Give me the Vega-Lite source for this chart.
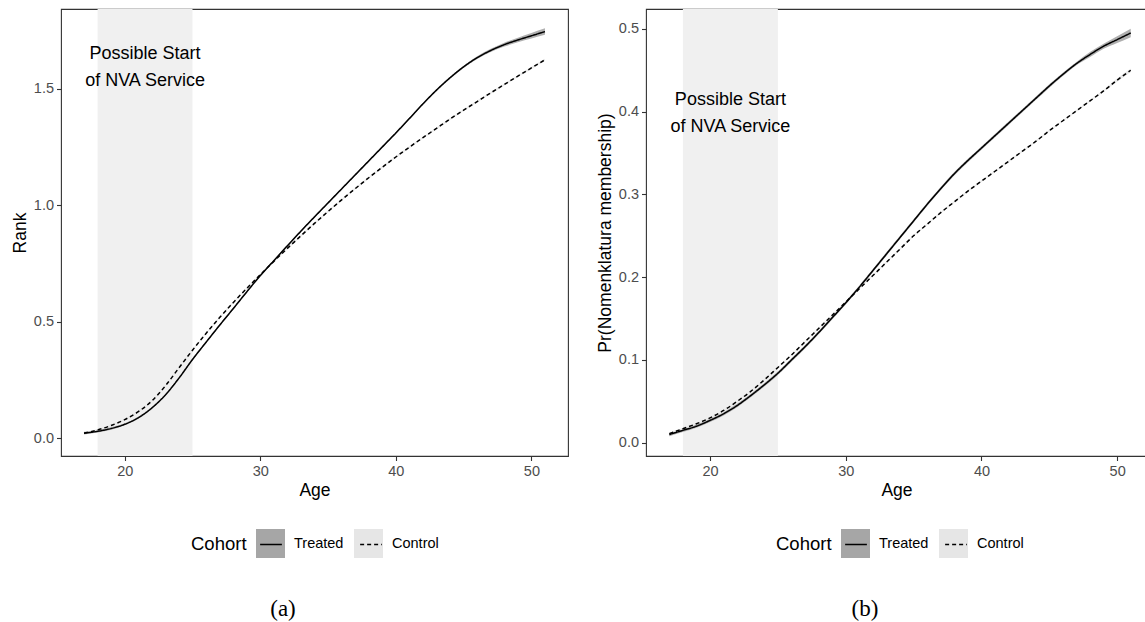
{
  "$schema": "https://vega.github.io/schema/vega-lite/v6.json",
  "background": "white",
  "padding": {"left": 10, "top": 8, "right": -3, "bottom": 0},
  "spacing": 26,
  "datasets": {
    "shade": [{"from": 18, "to": 25}],
    "annotA": [{"age": 21.5, "value": 1.65, "label": "Possible Start\nof NVA Service"}],
    "annotB": [{"age": 21.5, "value": 0.414, "label": "Possible Start\nof NVA Service"}],
    "rank": [
      {"cohort": "Treated", "age": 17, "y": 0.022, "lo": 0.016, "hi": 0.028},
      {"cohort": "Treated", "age": 18, "y": 0.030, "lo": 0.025, "hi": 0.035},
      {"cohort": "Treated", "age": 19, "y": 0.042, "lo": 0.037, "hi": 0.047},
      {"cohort": "Treated", "age": 20, "y": 0.060, "lo": 0.056, "hi": 0.064},
      {"cohort": "Treated", "age": 21, "y": 0.088, "lo": 0.084, "hi": 0.092},
      {"cohort": "Treated", "age": 22, "y": 0.130, "lo": 0.126, "hi": 0.134},
      {"cohort": "Treated", "age": 23, "y": 0.186, "lo": 0.182, "hi": 0.190},
      {"cohort": "Treated", "age": 24, "y": 0.258, "lo": 0.254, "hi": 0.262},
      {"cohort": "Treated", "age": 25, "y": 0.338, "lo": 0.334, "hi": 0.342},
      {"cohort": "Treated", "age": 26, "y": 0.412, "lo": 0.408, "hi": 0.416},
      {"cohort": "Treated", "age": 27, "y": 0.485, "lo": 0.481, "hi": 0.489},
      {"cohort": "Treated", "age": 28, "y": 0.556, "lo": 0.552, "hi": 0.560},
      {"cohort": "Treated", "age": 29, "y": 0.628, "lo": 0.624, "hi": 0.632},
      {"cohort": "Treated", "age": 30, "y": 0.698, "lo": 0.694, "hi": 0.702},
      {"cohort": "Treated", "age": 31, "y": 0.762, "lo": 0.758, "hi": 0.766},
      {"cohort": "Treated", "age": 32, "y": 0.826, "lo": 0.822, "hi": 0.830},
      {"cohort": "Treated", "age": 33, "y": 0.889, "lo": 0.885, "hi": 0.893},
      {"cohort": "Treated", "age": 34, "y": 0.950, "lo": 0.946, "hi": 0.954},
      {"cohort": "Treated", "age": 35, "y": 1.010, "lo": 1.006, "hi": 1.014},
      {"cohort": "Treated", "age": 36, "y": 1.070, "lo": 1.066, "hi": 1.074},
      {"cohort": "Treated", "age": 37, "y": 1.130, "lo": 1.126, "hi": 1.134},
      {"cohort": "Treated", "age": 38, "y": 1.190, "lo": 1.186, "hi": 1.194},
      {"cohort": "Treated", "age": 39, "y": 1.250, "lo": 1.246, "hi": 1.254},
      {"cohort": "Treated", "age": 40, "y": 1.310, "lo": 1.306, "hi": 1.314},
      {"cohort": "Treated", "age": 41, "y": 1.372, "lo": 1.368, "hi": 1.376},
      {"cohort": "Treated", "age": 42, "y": 1.435, "lo": 1.431, "hi": 1.439},
      {"cohort": "Treated", "age": 43, "y": 1.494, "lo": 1.490, "hi": 1.498},
      {"cohort": "Treated", "age": 44, "y": 1.547, "lo": 1.543, "hi": 1.551},
      {"cohort": "Treated", "age": 45, "y": 1.594, "lo": 1.589, "hi": 1.599},
      {"cohort": "Treated", "age": 46, "y": 1.633, "lo": 1.627, "hi": 1.639},
      {"cohort": "Treated", "age": 47, "y": 1.664, "lo": 1.657, "hi": 1.671},
      {"cohort": "Treated", "age": 48, "y": 1.689, "lo": 1.681, "hi": 1.697},
      {"cohort": "Treated", "age": 49, "y": 1.709, "lo": 1.699, "hi": 1.719},
      {"cohort": "Treated", "age": 50, "y": 1.727, "lo": 1.715, "hi": 1.739},
      {"cohort": "Treated", "age": 51, "y": 1.745, "lo": 1.731, "hi": 1.759},
      {"cohort": "Control", "age": 17, "y": 0.022, "lo": 0.017, "hi": 0.027},
      {"cohort": "Control", "age": 18, "y": 0.036, "lo": 0.032, "hi": 0.040},
      {"cohort": "Control", "age": 19, "y": 0.055, "lo": 0.051, "hi": 0.059},
      {"cohort": "Control", "age": 20, "y": 0.080, "lo": 0.076, "hi": 0.084},
      {"cohort": "Control", "age": 21, "y": 0.114, "lo": 0.110, "hi": 0.118},
      {"cohort": "Control", "age": 22, "y": 0.160, "lo": 0.156, "hi": 0.164},
      {"cohort": "Control", "age": 23, "y": 0.225, "lo": 0.221, "hi": 0.229},
      {"cohort": "Control", "age": 24, "y": 0.302, "lo": 0.298, "hi": 0.306},
      {"cohort": "Control", "age": 25, "y": 0.378, "lo": 0.374, "hi": 0.382},
      {"cohort": "Control", "age": 26, "y": 0.450, "lo": 0.446, "hi": 0.454},
      {"cohort": "Control", "age": 27, "y": 0.518, "lo": 0.514, "hi": 0.522},
      {"cohort": "Control", "age": 28, "y": 0.582, "lo": 0.578, "hi": 0.586},
      {"cohort": "Control", "age": 29, "y": 0.643, "lo": 0.639, "hi": 0.647},
      {"cohort": "Control", "age": 30, "y": 0.702, "lo": 0.698, "hi": 0.706},
      {"cohort": "Control", "age": 31, "y": 0.759, "lo": 0.755, "hi": 0.763},
      {"cohort": "Control", "age": 32, "y": 0.815, "lo": 0.811, "hi": 0.819},
      {"cohort": "Control", "age": 33, "y": 0.869, "lo": 0.865, "hi": 0.873},
      {"cohort": "Control", "age": 34, "y": 0.922, "lo": 0.918, "hi": 0.926},
      {"cohort": "Control", "age": 35, "y": 0.973, "lo": 0.969, "hi": 0.977},
      {"cohort": "Control", "age": 36, "y": 1.023, "lo": 1.019, "hi": 1.027},
      {"cohort": "Control", "age": 37, "y": 1.071, "lo": 1.067, "hi": 1.075},
      {"cohort": "Control", "age": 38, "y": 1.118, "lo": 1.114, "hi": 1.122},
      {"cohort": "Control", "age": 39, "y": 1.163, "lo": 1.159, "hi": 1.167},
      {"cohort": "Control", "age": 40, "y": 1.207, "lo": 1.203, "hi": 1.211},
      {"cohort": "Control", "age": 41, "y": 1.249, "lo": 1.245, "hi": 1.253},
      {"cohort": "Control", "age": 42, "y": 1.290, "lo": 1.286, "hi": 1.294},
      {"cohort": "Control", "age": 43, "y": 1.330, "lo": 1.326, "hi": 1.334},
      {"cohort": "Control", "age": 44, "y": 1.370, "lo": 1.366, "hi": 1.374},
      {"cohort": "Control", "age": 45, "y": 1.408, "lo": 1.404, "hi": 1.412},
      {"cohort": "Control", "age": 46, "y": 1.445, "lo": 1.441, "hi": 1.449},
      {"cohort": "Control", "age": 47, "y": 1.482, "lo": 1.478, "hi": 1.486},
      {"cohort": "Control", "age": 48, "y": 1.518, "lo": 1.514, "hi": 1.522},
      {"cohort": "Control", "age": 49, "y": 1.554, "lo": 1.550, "hi": 1.558},
      {"cohort": "Control", "age": 50, "y": 1.589, "lo": 1.584, "hi": 1.594},
      {"cohort": "Control", "age": 51, "y": 1.624, "lo": 1.619, "hi": 1.629}
    ],
    "nomen": [
      {"cohort": "Treated", "age": 17, "y": 0.010, "lo": 0.008, "hi": 0.012},
      {"cohort": "Treated", "age": 18, "y": 0.015, "lo": 0.013, "hi": 0.017},
      {"cohort": "Treated", "age": 19, "y": 0.020, "lo": 0.018, "hi": 0.022},
      {"cohort": "Treated", "age": 20, "y": 0.027, "lo": 0.025, "hi": 0.029},
      {"cohort": "Treated", "age": 21, "y": 0.035, "lo": 0.033, "hi": 0.037},
      {"cohort": "Treated", "age": 22, "y": 0.045, "lo": 0.043, "hi": 0.047},
      {"cohort": "Treated", "age": 23, "y": 0.057, "lo": 0.055, "hi": 0.059},
      {"cohort": "Treated", "age": 24, "y": 0.070, "lo": 0.068, "hi": 0.072},
      {"cohort": "Treated", "age": 25, "y": 0.084, "lo": 0.082, "hi": 0.086},
      {"cohort": "Treated", "age": 26, "y": 0.100, "lo": 0.098, "hi": 0.102},
      {"cohort": "Treated", "age": 27, "y": 0.116, "lo": 0.114, "hi": 0.118},
      {"cohort": "Treated", "age": 28, "y": 0.133, "lo": 0.131, "hi": 0.135},
      {"cohort": "Treated", "age": 29, "y": 0.151, "lo": 0.149, "hi": 0.153},
      {"cohort": "Treated", "age": 30, "y": 0.169, "lo": 0.167, "hi": 0.171},
      {"cohort": "Treated", "age": 31, "y": 0.188, "lo": 0.186, "hi": 0.190},
      {"cohort": "Treated", "age": 32, "y": 0.208, "lo": 0.206, "hi": 0.210},
      {"cohort": "Treated", "age": 33, "y": 0.228, "lo": 0.226, "hi": 0.230},
      {"cohort": "Treated", "age": 34, "y": 0.248, "lo": 0.246, "hi": 0.250},
      {"cohort": "Treated", "age": 35, "y": 0.268, "lo": 0.266, "hi": 0.270},
      {"cohort": "Treated", "age": 36, "y": 0.288, "lo": 0.286, "hi": 0.290},
      {"cohort": "Treated", "age": 37, "y": 0.307, "lo": 0.305, "hi": 0.309},
      {"cohort": "Treated", "age": 38, "y": 0.325, "lo": 0.323, "hi": 0.327},
      {"cohort": "Treated", "age": 39, "y": 0.341, "lo": 0.339, "hi": 0.343},
      {"cohort": "Treated", "age": 40, "y": 0.356, "lo": 0.354, "hi": 0.358},
      {"cohort": "Treated", "age": 41, "y": 0.371, "lo": 0.369, "hi": 0.373},
      {"cohort": "Treated", "age": 42, "y": 0.386, "lo": 0.384, "hi": 0.388},
      {"cohort": "Treated", "age": 43, "y": 0.401, "lo": 0.399, "hi": 0.403},
      {"cohort": "Treated", "age": 44, "y": 0.416, "lo": 0.414, "hi": 0.418},
      {"cohort": "Treated", "age": 45, "y": 0.431, "lo": 0.429, "hi": 0.433},
      {"cohort": "Treated", "age": 46, "y": 0.445, "lo": 0.443, "hi": 0.447},
      {"cohort": "Treated", "age": 47, "y": 0.458, "lo": 0.456, "hi": 0.460},
      {"cohort": "Treated", "age": 48, "y": 0.469, "lo": 0.466, "hi": 0.472},
      {"cohort": "Treated", "age": 49, "y": 0.479, "lo": 0.476, "hi": 0.482},
      {"cohort": "Treated", "age": 50, "y": 0.487, "lo": 0.483, "hi": 0.491},
      {"cohort": "Treated", "age": 51, "y": 0.495, "lo": 0.490, "hi": 0.500},
      {"cohort": "Control", "age": 17, "y": 0.011, "lo": 0.010, "hi": 0.012},
      {"cohort": "Control", "age": 18, "y": 0.017, "lo": 0.016, "hi": 0.018},
      {"cohort": "Control", "age": 19, "y": 0.023, "lo": 0.022, "hi": 0.024},
      {"cohort": "Control", "age": 20, "y": 0.030, "lo": 0.029, "hi": 0.031},
      {"cohort": "Control", "age": 21, "y": 0.039, "lo": 0.038, "hi": 0.040},
      {"cohort": "Control", "age": 22, "y": 0.050, "lo": 0.049, "hi": 0.051},
      {"cohort": "Control", "age": 23, "y": 0.062, "lo": 0.061, "hi": 0.063},
      {"cohort": "Control", "age": 24, "y": 0.076, "lo": 0.075, "hi": 0.077},
      {"cohort": "Control", "age": 25, "y": 0.091, "lo": 0.090, "hi": 0.092},
      {"cohort": "Control", "age": 26, "y": 0.106, "lo": 0.105, "hi": 0.107},
      {"cohort": "Control", "age": 27, "y": 0.122, "lo": 0.121, "hi": 0.123},
      {"cohort": "Control", "age": 28, "y": 0.138, "lo": 0.137, "hi": 0.139},
      {"cohort": "Control", "age": 29, "y": 0.154, "lo": 0.153, "hi": 0.155},
      {"cohort": "Control", "age": 30, "y": 0.170, "lo": 0.169, "hi": 0.171},
      {"cohort": "Control", "age": 31, "y": 0.186, "lo": 0.185, "hi": 0.187},
      {"cohort": "Control", "age": 32, "y": 0.202, "lo": 0.201, "hi": 0.203},
      {"cohort": "Control", "age": 33, "y": 0.218, "lo": 0.217, "hi": 0.219},
      {"cohort": "Control", "age": 34, "y": 0.234, "lo": 0.233, "hi": 0.235},
      {"cohort": "Control", "age": 35, "y": 0.250, "lo": 0.249, "hi": 0.251},
      {"cohort": "Control", "age": 36, "y": 0.264, "lo": 0.263, "hi": 0.265},
      {"cohort": "Control", "age": 37, "y": 0.278, "lo": 0.277, "hi": 0.279},
      {"cohort": "Control", "age": 38, "y": 0.291, "lo": 0.290, "hi": 0.292},
      {"cohort": "Control", "age": 39, "y": 0.304, "lo": 0.303, "hi": 0.305},
      {"cohort": "Control", "age": 40, "y": 0.316, "lo": 0.315, "hi": 0.317},
      {"cohort": "Control", "age": 41, "y": 0.328, "lo": 0.327, "hi": 0.329},
      {"cohort": "Control", "age": 42, "y": 0.340, "lo": 0.339, "hi": 0.341},
      {"cohort": "Control", "age": 43, "y": 0.352, "lo": 0.351, "hi": 0.353},
      {"cohort": "Control", "age": 44, "y": 0.364, "lo": 0.363, "hi": 0.365},
      {"cohort": "Control", "age": 45, "y": 0.377, "lo": 0.376, "hi": 0.378},
      {"cohort": "Control", "age": 46, "y": 0.389, "lo": 0.388, "hi": 0.390},
      {"cohort": "Control", "age": 47, "y": 0.401, "lo": 0.400, "hi": 0.402},
      {"cohort": "Control", "age": 48, "y": 0.413, "lo": 0.412, "hi": 0.414},
      {"cohort": "Control", "age": 49, "y": 0.425, "lo": 0.424, "hi": 0.426},
      {"cohort": "Control", "age": 50, "y": 0.438, "lo": 0.436, "hi": 0.440},
      {"cohort": "Control", "age": 51, "y": 0.450, "lo": 0.448, "hi": 0.452}
    ]
  },
  "hconcat": [
    {
      "width": 507,
      "height": 447,
      "title": {"text": "(a)", "orient": "bottom", "anchor": "middle", "frame": "group", "dx": -31.5, "offset": 40, "font": "Liberation Serif", "fontSize": 23, "fontWeight": "normal", "color": "black"},
      "layer": [
        {
          "data": {"name": "shade"},
          "mark": {"type": "rect", "color": "#f0f0f0"},
          "encoding": {
            "x": {"field": "from", "type": "quantitative", "title": "Age", "scale": {"domain": [15.3, 52.7], "nice": false, "zero": false}, "axis": {"values": [20, 30, 40, 50]}},
            "x2": {"field": "to"}
          }
        },
        {
          "data": {"name": "rank"},
          "mark": {"type": "area", "interpolate": "monotone", "opacity": 0.9},
          "encoding": {
            "x": {"field": "age", "type": "quantitative", "title": "Age", "scale": {"domain": [15.3, 52.7], "nice": false, "zero": false}, "axis": {"values": [20, 30, 40, 50]}},
            "y": {"field": "lo", "type": "quantitative", "title": "Rank", "scale": {"domain": [-0.076, 1.842], "nice": false, "zero": false}, "axis": {"values": [0, 0.5, 1, 1.5], "format": ".1f"}},
            "y2": {"field": "hi"},
            "fill": {"field": "cohort", "type": "nominal", "scale": {"domain": ["Treated", "Control"], "range": ["#a6a6a6", "#e6e6e6"]},
              "legend": {"orient": "none", "legendX": 130, "legendY": 520, "direction": "horizontal", "title": "Cohort", "titleOrient": "left", "titleFontSize": 18.5, "titleFont": "Liberation Sans", "titleFontWeight": "normal", "titleColor": "black", "titlePadding": 9, "titleBaseline": "middle", "symbolType": "square", "symbolSize": 841, "symbolStrokeWidth": 0, "symbolOpacity": 1, "labelFontSize": 14.5, "labelFont": "Liberation Sans", "labelColor": "black", "labelOffset": 9, "columnPadding": 10, "zindex": 1}}
          }
        },
        {
          "data": {"name": "rank"},
          "mark": {"type": "line", "interpolate": "monotone", "color": "black", "strokeWidth": 1.5},
          "encoding": {
            "x": {"field": "age", "type": "quantitative", "title": "Age", "scale": {"domain": [15.3, 52.7], "nice": false, "zero": false}, "axis": {"values": [20, 30, 40, 50]}},
            "y": {"field": "y", "type": "quantitative", "title": "Rank", "scale": {"domain": [-0.076, 1.842], "nice": false, "zero": false}, "axis": {"values": [0, 0.5, 1, 1.5], "format": ".1f"}},
            "strokeDash": {"field": "cohort", "type": "nominal", "sort": ["Treated", "Control"], "scale": {"range": [[1, 0], [4, 3]]},
              "legend": {"orient": "none", "legendX": 194.5, "legendY": 520, "direction": "horizontal", "title": null, "symbolType": "M-0.75,0H0.75", "symbolSize": 841, "symbolStrokeWidth": 1.5, "symbolStrokeColor": "black", "symbolFillColor": "transparent", "symbolOpacity": 1, "labelExpr": "''", "labelFontSize": 14.5, "labelOffset": 0, "columnPadding": 69, "zindex": 2}}
          }
        },
        {
          "data": {"name": "annotA"},
          "mark": {"type": "text", "lineBreak": "\n", "font": "Liberation Sans", "fontSize": 18, "lineHeight": 27, "color": "black"},
          "encoding": {
            "x": {"field": "age", "type": "quantitative", "title": "Age", "scale": {"domain": [15.3, 52.7], "nice": false, "zero": false}, "axis": {"values": [20, 30, 40, 50]}},
            "y": {"field": "value", "type": "quantitative", "title": "Rank", "scale": {"domain": [-0.076, 1.842], "nice": false, "zero": false}, "axis": {"values": [0, 0.5, 1, 1.5], "format": ".1f"}},
            "text": {"field": "label"}
          }
        }
      ]
    },
    {
      "width": 501,
      "height": 447,
      "title": {"text": "(b)", "orient": "bottom", "anchor": "middle", "frame": "group", "dx": -31.5, "offset": 40, "font": "Liberation Serif", "fontSize": 23, "fontWeight": "normal", "color": "black"},
      "layer": [
        {
          "data": {"name": "shade"},
          "mark": {"type": "rect", "color": "#f0f0f0"},
          "encoding": {
            "x": {"field": "from", "type": "quantitative", "title": "Age", "scale": {"domain": [15.28, 52.2], "nice": false, "zero": false}, "axis": {"values": [20, 30, 40, 50]}},
            "x2": {"field": "to"}
          }
        },
        {
          "data": {"name": "nomen"},
          "mark": {"type": "area", "interpolate": "monotone", "opacity": 0.9},
          "encoding": {
            "x": {"field": "age", "type": "quantitative", "title": "Age", "scale": {"domain": [15.28, 52.2], "nice": false, "zero": false}, "axis": {"values": [20, 30, 40, 50]}},
            "y": {"field": "lo", "type": "quantitative", "title": "Pr(Nomenklatura membership)", "scale": {"domain": [-0.016, 0.524], "nice": false, "zero": false}, "axis": {"values": [0, 0.1, 0.2, 0.3, 0.4, 0.5], "format": ".1f"}},
            "y2": {"field": "hi"},
            "fill": {"field": "cohort", "type": "nominal", "scale": {"domain": ["Treated", "Control"], "range": ["#a6a6a6", "#e6e6e6"]},
              "legend": {"orient": "none", "legendX": 130, "legendY": 520, "direction": "horizontal", "title": "Cohort", "titleOrient": "left", "titleFontSize": 18.5, "titleFont": "Liberation Sans", "titleFontWeight": "normal", "titleColor": "black", "titlePadding": 9, "titleBaseline": "middle", "symbolType": "square", "symbolSize": 841, "symbolStrokeWidth": 0, "symbolOpacity": 1, "labelFontSize": 14.5, "labelFont": "Liberation Sans", "labelColor": "black", "labelOffset": 9, "columnPadding": 10, "zindex": 1}}
          }
        },
        {
          "data": {"name": "nomen"},
          "mark": {"type": "line", "interpolate": "monotone", "color": "black", "strokeWidth": 1.5},
          "encoding": {
            "x": {"field": "age", "type": "quantitative", "title": "Age", "scale": {"domain": [15.28, 52.2], "nice": false, "zero": false}, "axis": {"values": [20, 30, 40, 50]}},
            "y": {"field": "y", "type": "quantitative", "title": "Pr(Nomenklatura membership)", "scale": {"domain": [-0.016, 0.524], "nice": false, "zero": false}, "axis": {"values": [0, 0.1, 0.2, 0.3, 0.4, 0.5], "format": ".1f"}},
            "strokeDash": {"field": "cohort", "type": "nominal", "sort": ["Treated", "Control"], "scale": {"range": [[1, 0], [4, 3]]},
              "legend": {"orient": "none", "legendX": 194.5, "legendY": 520, "direction": "horizontal", "title": null, "symbolType": "M-0.75,0H0.75", "symbolSize": 841, "symbolStrokeWidth": 1.5, "symbolStrokeColor": "black", "symbolFillColor": "transparent", "symbolOpacity": 1, "labelExpr": "''", "labelFontSize": 14.5, "labelOffset": 0, "columnPadding": 69, "zindex": 2}}
          }
        },
        {
          "data": {"name": "annotB"},
          "mark": {"type": "text", "lineBreak": "\n", "font": "Liberation Sans", "fontSize": 18, "lineHeight": 27, "color": "black"},
          "encoding": {
            "x": {"field": "age", "type": "quantitative", "title": "Age", "scale": {"domain": [15.28, 52.2], "nice": false, "zero": false}, "axis": {"values": [20, 30, 40, 50]}},
            "y": {"field": "value", "type": "quantitative", "title": "Pr(Nomenklatura membership)", "scale": {"domain": [-0.016, 0.524], "nice": false, "zero": false}, "axis": {"values": [0, 0.1, 0.2, 0.3, 0.4, 0.5], "format": ".1f"}},
            "text": {"field": "label"}
          }
        }
      ]
    }
  ],
  "resolve": {
    "scale": {"fill": "independent", "strokeDash": "independent"},
    "legend": {"fill": "independent", "strokeDash": "independent"}
  },
  "config": {
    "font": "Liberation Sans",
    "view": {"stroke": "#333333", "strokeWidth": 1.1},
    "axis": {"grid": false, "domain": false, "tickColor": "#333333", "tickSize": 4.5, "tickWidth": 1.1, "labelColor": "#4d4d4d", "labelFont": "Liberation Sans", "labelFontSize": 14.5, "titleFont": "Liberation Sans", "titleFontSize": 17.5, "titleFontWeight": "normal", "titleColor": "black"},
    "axisX": {"labelPadding": 4, "titlePadding": 3},
    "axisY": {"labelPadding": 3, "titlePadding": 4}
  }
}
